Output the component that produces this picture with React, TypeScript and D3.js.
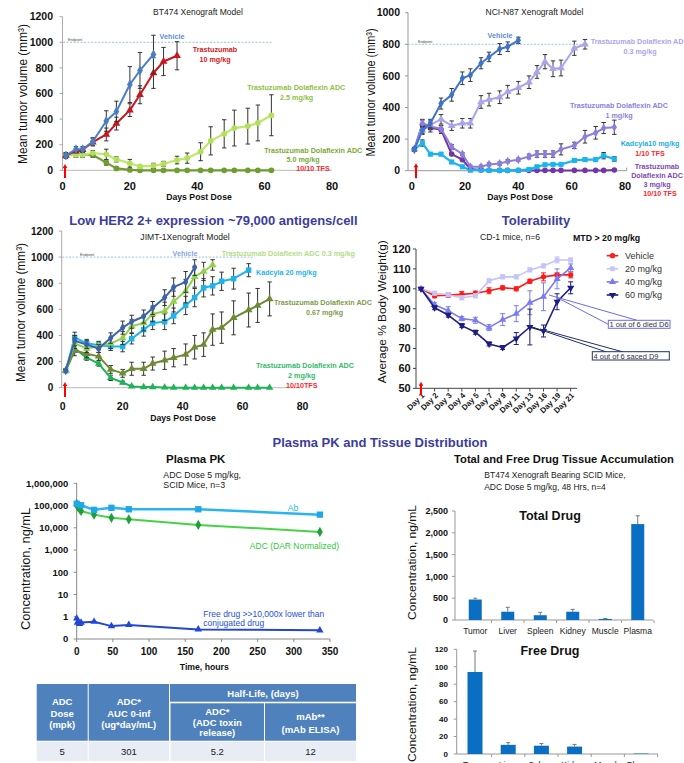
import React from "react";
import * as d3 from "d3";

const FONT = "'Liberation Sans', Arial, Helvetica, sans-serif";
const HEAD = "#3c3c9e";
const TFS = "#ff2a2a";

// ---------------- BT474 ----------------
const btVehDays = [1, 4, 6, 9, 13, 16, 20, 23, 27];
const btVehVals = [115, 165, 165, 225, 385, 460, 670, 780, 905];
const btVehErr = [20, 20, 20, 30, 80, 80, 140, 140, 150];
const btTraDays = [1, 4, 6, 9, 13, 16, 20, 23, 27, 30, 34];
const btTraVals = [115, 150, 160, 220, 280, 365, 470, 590, 760, 850, 895];
const btTraErr = [15, 15, 20, 30, 50, 50, 50, 70, 120, 110, 110];
const btAdcDays = [1, 4, 6, 9, 13, 16, 20, 23, 27, 30, 34, 37, 41, 44, 48, 51, 55, 58, 62];
const btAdc25Vals = [117, 120, 120, 135, 125, 85, 55, 30, 35, 50, 80, 95, 145, 230, 285, 330, 345, 370, 430];
const btAdc25Err = [20, 20, 20, 20, 40, 20, 30, 10, 20, 20, 30, 40, 70, 110, 110, 140, 140, 140, 160];
const btAdc50Vals = [117, 125, 125, 120, 60, 15, 3, 0, 0, 0, 0, 0, 0, 0, 0, 0, 0, 0, 0];
const btAdc50Err = [20, 20, 20, 20, 20, 10, 5, 0, 0, 0, 0, 0, 0, 0, 0, 0, 0, 0, 0];
const btYTicks = [0, 200, 400, 600, 800, 1000, 1200];
const btXTicks = [0, 20, 40, 60, 80];

// ---------------- NCI-N87 ----------------
const nVehDays = [1, 4, 7, 11, 15, 19, 22, 26, 29, 33, 36, 40];
const nVehVals = [135, 255, 300, 425, 480, 585, 605, 680, 720, 770, 785, 825];
const nVehErr = [10, 20, 25, 35, 40, 40, 40, 35, 30, 35, 30, 20];
const n03Days = [1, 4, 7, 11, 15, 19, 22, 26, 29, 33, 36, 40, 44, 47, 50, 53, 56, 61, 65];
const n03Vals = [135, 255, 290, 325, 285, 300, 300, 435, 450, 465, 500, 525, 560, 625, 690, 645, 650, 775, 800];
const n03Err = [10, 25, 25, 30, 30, 30, 30, 40, 40, 40, 40, 40, 40, 40, 45, 50, 50, 45, 30];
const nLongDays = [1, 4, 7, 11, 15, 19, 22, 26, 29, 33, 36, 40, 44, 47, 50, 53, 56, 61, 65, 69, 72, 76];
const n1Vals = [135, 300, 280, 265, 150, 105, 25, 25, 40, 45, 60, 70, 90, 105, 105, 105, 135, 160, 215, 240, 270, 275];
const n1Err = [10, 25, 20, 20, 15, 10, 10, 10, 10, 10, 10, 10, 15, 20, 20, 20, 35, 20, 40, 40, 35, 45];
const nKadVals = [135, 175, 105, 105, 55, 25, 3, 5, 2, 2, 2, 2, 8, 25, 38, 40, 40, 65, 70, 70, 95, 75];
const nKadErr = [10, 20, 10, 10, 10, 5, 5, 5, 5, 5, 5, 5, 5, 5, 5, 5, 5, 10, 10, 10, 20, 15];
const n3Vals = [135, 290, 270, 260, 105, 70, 10, 5, 3, 2, 2, 2, 2, 2, 2, 2, 2, 2, 2, 2, 2, 5];
const n3Err = [10, 30, 25, 25, 10, 5, 5, 0, 0, 0, 0, 0, 0, 0, 0, 0, 0, 0, 0, 0, 0, 0];
const nYTicks = [0, 200, 400, 600, 800, 1000];
const nXTicks = [0, 20, 40, 60, 80];

// ---------------- JIMT-1 ----------------
const jDays = [1, 4, 8, 12, 16, 20, 23, 27, 30, 34, 37, 41, 44, 47, 50, 53, 57, 62, 65, 69];
const jVehVals = [130, 360, 330, 300, 380, 460, 505, 545, 610, 690, 770, 810, 920];
const jVehErr = [10, 40, 30, 30, 40, 50, 50, 50, 50, 60, 70, 80, 60];
const j03Vals = [130, 340, 300, 320, 340, 380, 470, 495, 565, 585, 660, 740, 850, 890, 940];
const j03Err = [10, 40, 30, 30, 40, 50, 50, 60, 60, 70, 80, 90, 80, 70, 40];
const jKadVals = [130, 385, 340, 325, 315, 315, 375, 445, 495, 505, 550, 630, 690, 765, 780, 815, 835, 900];
const jKadErr = [10, 40, 30, 30, 30, 40, 40, 50, 50, 60, 60, 70, 70, 70, 70, 70, 80, 50];
const j067Vals = [130, 285, 260, 240, 140, 110, 145, 145, 185, 210, 230, 255, 310, 330, 445, 460, 535, 595, 630, 680];
const j067Err = [10, 40, 30, 30, 30, 30, 50, 50, 50, 70, 70, 80, 90, 90, 120, 120, 130, 130, 130, 130];
const j2Vals = [130, 300, 230, 185, 75, 40, 10, 5, 5, 2, 0, 0, 0, 0, 0, 0, 0, 0, 0, 0];
const j2Err = [10, 30, 20, 20, 20, 10, 5, 0, 0, 0, 0, 0, 0, 0, 0, 0, 0, 0, 0, 0];
const jYTicks = [0, 200, 400, 600, 800, 1000, 1200];
const jXTicks = [0, 20, 40, 60, 80];

// ---------------- Tolerability ----------------
const tolDays = ["Day 1", "Day 2", "Day 3", "Day 4", "Day 5", "Day 7", "Day 9", "Day 11", "Day 13", "Day 16", "Day 19", "Day 21"];
const tolVeh = [100, 96.5, 96.8, 97.2, 97.8, 99, 100.5, 100, 103.8, 106, 107, 107];
const tolVehErr = [0, 1, 1, 1.5, 1, 1.5, 1, 1, 1, 2, 1, 1.5];
const tol20 = [100, 97.8, 97, 95.5, 96.5, 104, 106, 106, 109.5, 111.5, 114.5, 114.5];
const tol20Err = [0, 1, 1, 1, 1, 1, 1, 1, 1, 1, 1.5, 1];
const tol40 = [100, 92, 89, 85, 84.2, 80.5, 84.5, 87.5, 93, 96, 105, 110.5];
const tol40Err = [0, 1, 2, 1, 1.5, 1.5, 3, 4, 6, 7, 5, 2];
const tol60 = [100, 90.5, 86.8, 81.5, 78.2, 72.3, 70.5, 75, 80.8, 78.8, 93.5, 100.5];
const tol60Err = [0, 1, 1, 1, 1, 1, 1, 3, 9, 3, 4, 3];
const tolYTicks = [50, 60, 70, 80, 90, 100, 110, 120];
const tolLegend = ["Vehicle", "20 mg/kg", "40 mg/kg", "60 mg/kg"];

// ---------------- Plasma PK ----------------
const abT = [0.08, 6, 24, 48, 72, 168, 336];
const abV = [120000, 103000, 64000, 79000, 68000, 68000, 39000];
const adcT = [0.08, 1, 4, 6, 24, 48, 72, 168, 336];
const adcV = [120000, 90000, 70000, 57000, 39000, 28000, 24000, 13500, 6500];
const freeT = [0.08, 1, 4, 6, 24, 48, 72, 168, 336];
const freeV = [0.84, 0.55, 0.48, 0.55, 0.6, 0.38, 0.43, 0.27, 0.245];
const pkYTicks = [0.1, 1, 10, 100, 1000, 10000, 100000, 1000000];
const pkYLabels = ["0", "1", "10", "100", "1,000", "10,000", "100,000", "1,000,000"];
const pkXTicks = [0, 50, 100, 150, 200, 250, 300, 350];

// ---------------- Tissue ----------------
const tissues = ["Tumor", "Liver", "Spleen", "Kidney", "Muscle", "Plasma"];
const totalVals = [470, 190, 110, 190, 25, 2200];
const totalErr = [30, 100, 65, 55, 10, 190];
const totalTicks = [0, 500, 1000, 1500, 2000, 2500];
const freeVals = [94, 10.5, 9.5, 8.5, 0, 0.5];
const freeErr = [24, 2.5, 2.5, 2.5, 0, 0];
const freeTicks = [0, 20, 40, 60, 80, 100, 120];

// ---------------- Table ----------------
const tableRow = ["5", "301", "5.2", "12"];

const fmt = d3.format(",");

function symType(shape: string) {
  if (shape === "circle") return d3.symbolCircle;
  if (shape === "square") return d3.symbolSquare;
  if (shape === "diamond") return d3.symbolDiamond;
  return d3.symbolTriangle;
}

function Marker({ x, y, shape, size, fill }: any) {
  const d = d3.symbol().type(symType(shape)).size(size)() as string;
  return (
    <path d={d} transform={`translate(${x},${y})${shape === "tdown" ? " rotate(180)" : ""}`} fill={fill} />
  );
}

function Series({ xs, ys, err, xS, yS, color, shape, size = 26, sw = 2, errColor = "#333", markerColor, cap = 2.2 }: any) {
  const pts = xs.map((d: any, i: number) => [xS(d), yS(ys[i])]);
  const path = d3.line()(pts) as string;
  return (
    <g>
      {err &&
        err.map((e: number, i: number) =>
          e > 0 ? (
            <g key={"e" + i} stroke={errColor} strokeWidth={1}>
              <line x1={pts[i][0]} x2={pts[i][0]} y1={yS(ys[i] - e)} y2={yS(ys[i] + e)} />
              <line x1={pts[i][0] - cap} x2={pts[i][0] + cap} y1={yS(ys[i] + e)} y2={yS(ys[i] + e)} />
              <line x1={pts[i][0] - cap} x2={pts[i][0] + cap} y1={yS(ys[i] - e)} y2={yS(ys[i] - e)} />
            </g>
          ) : null
        )}
      <path d={path} fill="none" stroke={color} strokeWidth={sw} strokeLinejoin="round" />
      {pts.map((p: number[], i: number) => (
        <Marker key={i} x={p[0]} y={p[1]} shape={shape} size={size} fill={markerColor || color} />
      ))}
    </g>
  );
}

function VLabel({ x, y, text, size, len, weight = "normal" }: any) {
  return (
    <text
      transform={`translate(${x},${y}) rotate(-90)`}
      textAnchor="middle"
      dominantBaseline="middle"
      fontSize={size}
      textLength={len}
      lengthAdjust="spacingAndGlyphs"
      fontWeight={weight}
      fill="#111"
    >
      {text}
    </text>
  );
}

function Lbl({ x, y, lines, color, size = 7.2, anchor = "start", bold = true, lh = 9.5 }: any) {
  return (
    <text fontSize={size} fill={color} fontWeight={bold ? "bold" : "normal"} textAnchor={anchor}>
      {lines.map((l: string, i: number) => (
        <tspan key={i} x={x} y={y + i * lh}>
          {l}
        </tspan>
      ))}
    </text>
  );
}

function RedArrow({ x, y1, y2 }: any) {
  return (
    <g>
      <line x1={x} x2={x} y1={y1} y2={y2 + 3} stroke="#ff0000" strokeWidth={2} />
      <path d={`M${x - 2.3},${y2 + 4}L${x},${y2}L${x + 2.3},${y2 + 4}Z`} fill="#ff0000" />
    </g>
  );
}

function YAxis({ x, yS, ticks, labelX, size, labels, color = "#999", y0, y1, fmtFn }: any) {
  return (
    <g>
      <line x1={x} x2={x} y1={y0} y2={y1} stroke={color} strokeWidth={1} />
      {ticks.map((t: number, i: number) => (
        <g key={i}>
          <line x1={x - 3} x2={x} y1={yS(t)} y2={yS(t)} stroke={color} strokeWidth={1} />
          <text x={labelX} y={yS(t)} dy="0.35em" textAnchor="end" fontSize={size} fontWeight="bold" fill="#111">
            {labels ? labels[i] : fmtFn ? fmtFn(t) : t}
          </text>
        </g>
      ))}
    </g>
  );
}

function XTickLabels({ xS, ticks, y, size }: any) {
  return (
    <g>
      {ticks.map((t: number, i: number) => (
        <text key={i} x={xS(t)} y={y} textAnchor="middle" fontSize={size} fontWeight="bold" fill="#111">
          {t}
        </text>
      ))}
    </g>
  );
}

function Endpoint({ x0, x1, y, tx }: any) {
  return (
    <g>
      <line x1={x0} x2={x1} y1={y} y2={y} stroke="#9dc3e6" strokeWidth={1} strokeDasharray="2,1.5" />
      <text x={tx} y={y - 1} fontSize={3.6} fill="#444">
        Endpoint
      </text>
    </g>
  );
}

function BT474() {
  const xS = d3.scaleLinear([0, 80], [62.5, 332]);
  const yS = d3.scaleLinear([0, 1200], [170.3, 16.7]).clamp(true);
  return (
    <g>
      <text x={198} y={15.3} textAnchor="middle" fontSize={8.5} fill="#222">
        BT474  Xenograft Model
      </text>
      <line x1={62.5} x2={332} y1={170.3} y2={170.3} stroke="#bbb" />
      <YAxis x={62.5} yS={yS} ticks={btYTicks} labelX={53} size={10.5} y0={16.7} y1={171} color="#aaa" />
      <XTickLabels xS={xS} ticks={btXTicks} y={190} size={11} />
      <text x={199} y={199.5} textAnchor="middle" fontSize={8.7} fontWeight="bold" fill="#111">
        Days Post Dose
      </text>
      <VLabel x={23.3} y={94} text="Mean tumor volume (mm³)" size={13} len={140} />
      <Endpoint x0={63} x1={271.7} y={yS(1000)} tx={68} />
      <Series xs={btAdcDays} ys={btAdc50Vals} err={btAdc50Err} xS={xS} yS={yS} color="#6f9d2f" shape="circle" size={26} sw={2.2} />
      <Series xs={btAdcDays} ys={btAdc25Vals} err={btAdc25Err} xS={xS} yS={yS} color="#bfe86a" markerColor="#b3df5c" shape="circle" size={26} sw={2.2} />
      <Series xs={btTraDays} ys={btTraVals} err={btTraErr} xS={xS} yS={yS} color="#c8161e" shape="triangle" size={26} sw={2} />
      <Series xs={btVehDays} ys={btVehVals} err={btVehErr} xS={xS} yS={yS} color="#4a7ec4" shape="diamond" size={28} sw={2} />
      <RedArrow x={65} y1={178} y2={164} />
      <Lbl x={172} y={39} lines={["Vehicle"]} color="#5b8fd4" anchor="middle" />
      <Lbl x={215} y={52.3} lines={["Trastuzumab", "10 mg/kg"]} color="#d42020" anchor="middle" lh={10} />
      <Lbl x={247.3} y={90} lines={["Trastuzumab Dolaflexin  ADC"]} color="#8fbf3f" />
      <Lbl x={296.7} y={99.5} lines={["2.5 mg/kg"]} color="#8fbf3f" anchor="middle" />
      <Lbl x={264.3} y={152.7} lines={["Trastuzumab Dolaflexin  ADC"]} color="#7aab36" />
      <Lbl x={303} y={162} lines={["5.0 mg/kg"]} color="#7aab36" anchor="middle" />
      <Lbl x={313} y={171} lines={["10/10 TFS"]} color={TFS} anchor="middle" />
    </g>
  );
}

function NCI() {
  const xS = d3.scaleLinear([0, 80], [411.7, 625]);
  const yS = d3.scaleLinear([0, 1000], [170.7, 12.7]).clamp(true);
  return (
    <g>
      <text x={534.5} y={15.3} textAnchor="middle" fontSize={8.5} fill="#222">
        NCI-N87 Xenograft Model
      </text>
      <line x1={408} x2={626.7} y1={170.7} y2={170.7} stroke="#999" />
      <line x1={626.7} x2={626.7} y1={170.7} y2={167.5} stroke="#999" />
      <YAxis x={408} yS={yS} ticks={nYTicks} labelX={400} size={10.5} y0={12.7} y1={170.7} color="#999" />
      <XTickLabels xS={xS} ticks={nXTicks} y={189.5} size={11} />
      <text x={520} y={199.5} textAnchor="middle" fontSize={8.7} fontWeight="bold" fill="#111">
        Days Post Dose
      </text>
      <VLabel x={371.7} y={92.5} text="Mean tumor volume (mm³)" size={12} len={128} />
      <Endpoint x0={408} x1={588} y={yS(800)} tx={418} />
      <Series xs={nLongDays} ys={n3Vals} err={n3Err} xS={xS} yS={yS} color="#7435a8" shape="circle" size={24} sw={2} />
      <Series xs={nLongDays} ys={nKadVals} err={nKadErr} xS={xS} yS={yS} color="#1ab4ee" shape="square" size={26} sw={2.2} />
      <Series xs={nLongDays} ys={n1Vals} err={n1Err} xS={xS} yS={yS} color="#8c7edb" shape="diamond" size={24} sw={2} />
      <Series xs={n03Days} ys={n03Vals} err={n03Err} xS={xS} yS={yS} color="#a9a4ec" shape="triangle" size={26} sw={2} />
      <Series xs={nVehDays} ys={nVehVals} err={nVehErr} xS={xS} yS={yS} color="#3f73c8" shape="diamond" size={24} sw={2} />
      <RedArrow x={416} y1={178.3} y2={163.3} />
      <Lbl x={500} y={37.7} lines={["Vehicle"]} color="#5a8ad8" anchor="middle" />
      <Lbl x={590.7} y={43.5} lines={["Trastuzumab Dolaflexin  ADC"]} color="#aaa6ee" />
      <Lbl x={640} y={53.5} lines={["0.3 mg/kg"]} color="#aaa6ee" anchor="middle" />
      <Lbl x={619} y={108} lines={["Trastuzumab Dolaflexin  ADC", "1 mg/kg"]} color="#8e80dc" anchor="middle" lh={10} />
      <Lbl x={650} y={145.5} lines={["Kadcyla10 mg/kg"]} color="#1aaeea" anchor="middle" />
      <Lbl x={650} y={155.5} lines={["1/10 TFS"]} color={TFS} anchor="middle" />
      <Lbl x={657} y={168.5} lines={["Trastuzumab", "Dolaflexin  ADC", "3 mg/kg"]} color="#8048b2" anchor="middle" lh={9.3} />
      <Lbl x={660} y={196} lines={["10/10 TFS"]} color={TFS} anchor="middle" />
    </g>
  );
}

function JIMT() {
  const xS = d3.scaleLinear([0, 80], [62.7, 302.6]);
  const yS = d3.scaleLinear([0, 1200], [387.7, 231]).clamp(true);
  return (
    <g>
      <text x={185} y={240} textAnchor="middle" fontSize={8.6} fill="#222">
        JIMT-1Xenograft Model
      </text>
      <line x1={61.7} x2={300} y1={387.7} y2={387.7} stroke="#bbb" />
      <YAxis x={61.7} yS={yS} ticks={jYTicks} labelX={53.3} size={10} y0={231} y1={387.7} color="#aaa" />
      <XTickLabels xS={xS} ticks={jXTicks} y={410} size={10.5} />
      <text x={183} y={421} textAnchor="middle" fontSize={8.7} fontWeight="bold" fill="#111">
        Days Post Dose
      </text>
      <VLabel x={21.7} y={312.5} text="Mean tumor volume (mm³)" size={13} len={139} />
      <Endpoint x0={62} x1={255} y={yS(1000)} tx={80} />
      <Series xs={jDays} ys={j2Vals} err={j2Err} xS={xS} yS={yS} color="#22b158" shape="triangle" size={24} sw={2} />
      <Series xs={jDays} ys={j067Vals} err={j067Err} xS={xS} yS={yS} color="#6d8b35" shape="triangle" size={26} sw={2} />
      <Series xs={jDays.slice(0, 18)} ys={jKadVals} err={jKadErr} xS={xS} yS={yS} color="#20b2ea" shape="square" size={30} sw={2} />
      <Series xs={jDays.slice(0, 15)} ys={j03Vals} err={j03Err} xS={xS} yS={yS} color="#92d050" shape="triangle" size={26} sw={2} />
      <Series xs={jDays.slice(0, 13)} ys={jVehVals} err={jVehErr} xS={xS} yS={yS} color="#3d62a5" shape="diamond" size={24} sw={2} />
      <RedArrow x={65} y1={397} y2={382} />
      <Lbl x={185} y={256} lines={["Vehicle"]} color="#86a6dc" anchor="middle" />
      <Lbl x={221.7} y={255.5} lines={["Trastuzumab Dolaflexin  ADC 0.3 mg/kg"]} color="#b3dd85" />
      <Lbl x={256} y={275} lines={["Kadcyla 20 mg/kg"]} color="#22b4ec" />
      <Lbl x={274} y={305} lines={["Trastuzumab Dolaflexin  ADC"]} color="#809b4c" />
      <Lbl x={324.5} y={315} lines={["0.67 mg/kg"]} color="#809b4c" anchor="middle" />
      <Lbl x={256} y={367.7} lines={["Trastuzumab Dolaflexin  ADC"]} color="#2fbb6a" />
      <Lbl x={301.7} y={377.7} lines={["2 mg/kg"]} color="#2fbb6a" anchor="middle" />
      <Lbl x={301.7} y={387.7} lines={["10/10TFS"]} color={TFS} anchor="middle" />
    </g>
  );
}

function Tol() {
  const xS = d3.scalePoint(tolDays, [421, 570.7]);
  const yS = d3.scaleLinear([50, 120], [388.3, 249]).clamp(true);
  const series = [
    { v: tolVeh, e: tolVehErr, c: "#ff1a1a", s: "circle" },
    { v: tol20, e: tol20Err, c: "#c4c4f8", s: "square" },
    { v: tol40, e: tol40Err, c: "#7b7bf5", s: "triangle" },
    { v: tol60, e: tol60Err, c: "#1c1c82", s: "tdown" },
  ];
  return (
    <g>
      <text x={536} y={225} textAnchor="middle" fontSize={13} fontWeight="bold" fill={HEAD}>
        Tolerability
      </text>
      <text x={510} y={240} textAnchor="middle" fontSize={8.6} fill="#222">
        CD-1 mice, n=6
      </text>
      <text x={573} y={241} fontSize={8.8} fontWeight="bold" fill="#111">
        MTD &gt; 20 mg/kg
      </text>
      <YAxis x={416} yS={yS} ticks={tolYTicks} labelX={410.7} size={11} y0={249} y1={388.3} color="#444" />
      <line x1={416} x2={577} y1={388.3} y2={388.3} stroke="#444" />
      {tolDays.map((d) => (
        <g key={d}>
          <line x1={xS(d)} x2={xS(d)} y1={388.3} y2={391.5} stroke="#444" />
          <text
            transform={`translate(${(xS(d) as number) + 4},${396}) rotate(-45)`}
            textAnchor="end"
            fontSize={7.8}
            fontWeight="bold"
            fill="#111"
          >
            {d}
          </text>
        </g>
      ))}
      <VLabel x={383.3} y={311.7} text="Average % Body Weight(g)" size={11.5} len={143} />
      {series.map((s, i) => (
        <Series key={i} xs={tolDays} ys={s.v} err={s.e} xS={xS} yS={yS} color={s.c} errColor={s.c} shape={s.s} size={22} sw={1.6} cap={2.5} />
      ))}
      <RedArrow x={421} y1={395} y2={381.7} />
      {tolLegend.map((l, i) => (
        <g key={l}>
          <line x1={606.7} x2={618.3} y1={255.7 + i * 13.1} y2={255.7 + i * 13.1} stroke={series[i].c} strokeWidth={1.6} />
          <Marker x={612.5} y={255.7 + i * 13.1} shape={series[i].s} size={22} fill={series[i].c} />
          <text x={625} y={255.7 + i * 13.1} dy="0.35em" fontSize={9} fill="#333">
            {l}
          </text>
        </g>
      ))}
      <g stroke="#6b6bf0" strokeWidth={1}>
        <line x1={549} y1={295} x2={637} y2={320.3} />
        <line x1={557} y1={297.5} x2={608.3} y2={324.3} />
      </g>
      <rect x={608.3} y={320.3} width={61.7} height={8} fill="#fff" stroke="#6b6bf0" strokeWidth={1} />
      <text x={609.5} y={327} fontSize={7.5} fill="#333">
        1 out of 6 died D6
      </text>
      <g stroke="#1f2f6e" strokeWidth={1}>
        <line x1={532} y1={327} x2={606.7} y2={352} />
        <line x1={540} y1={329} x2={623.3} y2={352} />
      </g>
      <rect x={592.3} y={351.7} width={77} height={8.3} fill="#fff" stroke="#1f2f6e" strokeWidth={1} />
      <text x={593.5} y={358.7} fontSize={7.5} fill="#333">
        4 out of 6 saced D9
      </text>
    </g>
  );
}

function PK() {
  const xS = d3.scaleLinear([0, 350], [76.7, 330]);
  const yS = d3.scaleLog([0.1, 1e6], [639, 483.3]);
  return (
    <g>
      <text x={195.7} y={463} textAnchor="middle" fontSize={11.5} fontWeight="bold" fill="#111">
        Plasma PK
      </text>
      <text x={163.3} y={478} fontSize={8.8} fill="#222">
        ADC Dose 5 mg/kg,
      </text>
      <text x={163.3} y={487.5} fontSize={8.8} fill="#222">
        SCID Mice, n=3
      </text>
      <YAxis x={76.7} yS={yS} ticks={pkYTicks} labels={pkYLabels} labelX={68.3} size={9.5} y0={483.3} y1={639} color="#888" />
      <line x1={76.7} x2={330} y1={639} y2={639} stroke="#888" />
      {pkXTicks.map((t) => (
        <g key={t}>
          <line x1={xS(t)} x2={xS(t)} y1={639} y2={642} stroke="#888" />
          <text x={xS(t)} y={655} textAnchor="middle" fontSize={10} fontWeight="bold" fill="#111">
            {t}
          </text>
        </g>
      ))}
      <text x={204.3} y={669.5} textAnchor="middle" fontSize={8.7} fontWeight="bold" fill="#111">
        Time, hours
      </text>
      <VLabel x={26.7} y={569} text="Concentration, ng/mL" size={12} len={122} />
      <Series xs={adcT} ys={adcV} xS={xS} yS={yS} color="#47d247" markerColor="#1f9e3b" shape="diamond" size={30} sw={2} />
      <Series xs={abT} ys={abV} xS={xS} yS={yS} color="#29b5ef" markerColor="#1fa8e8" shape="square" size={40} sw={2.5} />
      <Series xs={freeT} ys={freeV} xS={xS} yS={yS} color="#2346d6" shape="triangle" size={24} sw={2} />
      <text x={293} y={510.5} textAnchor="middle" fontSize={8.5} fill="#29b5ef">
        Ab
      </text>
      <text x={294.5} y={548.7} textAnchor="middle" fontSize={8.5} fill="#33c640">
        ADC (DAR Normalized)
      </text>
      <text x={203.3} y={616.5} fontSize={8.5} fill="#2850d8">
        Free drug &gt;&gt;10,000x lower than
      </text>
      <text x={203.3} y={626} fontSize={8.5} fill="#2850d8">
        conjugated drug
      </text>
    </g>
  );
}

function BarChart({ vals, errs, ticks, xS, yS, barW, labelY, axisX, x1, tickSize, title, titleY }: any) {
  const [y0, y1] = yS.range();
  return (
    <g>
      <text x={550} y={titleY} textAnchor="middle" fontSize={12.5} fontWeight="bold" fill="#111">
        {title}
      </text>
      <YAxis x={axisX} yS={yS} ticks={ticks} labelX={448} size={tickSize} y0={y1} y1={y0} color="#999" fmtFn={fmt} />
      <line x1={axisX} x2={x1} y1={y0} y2={y0} stroke="#999" />
      {tissues.map((t: string, i: number) => {
        const cx = (xS(t) as number) + xS.bandwidth() / 2;
        const top = yS(vals[i]);
        const et = yS(vals[i] + errs[i]);
        return (
          <g key={t}>
            <line x1={xS(t) + xS.bandwidth()} x2={xS(t) + xS.bandwidth()} y1={y0} y2={y0 + 3} stroke="#999" />
            <rect x={cx - barW / 2} y={top} width={barW} height={y0 - top} fill="#0a6fc2" />
            {errs[i] > 0 && (
              <g stroke="#777" strokeWidth={1}>
                <line x1={cx} x2={cx} y1={top} y2={et} />
                <line x1={cx - 2} x2={cx + 2} y1={et} y2={et} />
              </g>
            )}
            <text x={cx} y={labelY} textAnchor="middle" fontSize={8.5} fill="#222">
              {t}
            </text>
          </g>
        );
      })}
    </g>
  );
}

function Tissue() {
  const tx = d3.scaleBand(tissues, [459, 654]);
  const ty = d3.scaleLinear([0, 2500], [620, 511]);
  const fx = d3.scaleBand(tissues, [458.4, 657.6]);
  const fy = d3.scaleLinear([0, 120], [754, 649.3]);
  return (
    <g>
      <text x={564} y={463} textAnchor="middle" fontSize={11.2} fontWeight="bold" fill="#111">
        Total and Free Drug  Tissue Accumulation
      </text>
      <text x={555} y={478} textAnchor="middle" fontSize={8.5} fill="#222">
        BT474 Xenograft Bearing SCID Mice,
      </text>
      <text x={545} y={490} textAnchor="middle" fontSize={8.5} fill="#222">
        ADC Dose 5 mg/kg, 48 Hrs, n=4
      </text>
      <VLabel x={413.3} y={562.5} text="Concentration, ng/mL" size={11} len={115} />
      <BarChart vals={totalVals} errs={totalErr} ticks={totalTicks} xS={tx} yS={ty} barW={13} labelY={634} axisX={455} x1={653} tickSize={9} title="Total Drug" titleY={519.5} />
      <VLabel x={413.3} y={704.5} text="Concentration, ng/mL" size={11} len={115} />
      <BarChart vals={freeVals} errs={freeErr} ticks={freeTicks} xS={fx} yS={fy} barW={15} labelY={767.5} axisX={456.7} x1={658} tickSize={8} title="Free Drug" titleY={654.5} />
    </g>
  );
}

function PKTable() {
  const blue = "#4f81bd";
  const white = { fill: "#fff", fontWeight: "bold", fontSize: 9.5, textAnchor: "middle" } as any;
  const cols = [
    [36.7, 87.7],
    [88.7, 169],
    [170.5, 264],
    [265, 356],
  ];
  return (
    <g>
      <rect x={cols[0][0]} y={684} width={cols[0][1] - cols[0][0]} height={56.7} fill={blue} />
      <rect x={cols[1][0]} y={684} width={cols[1][1] - cols[1][0]} height={56.7} fill={blue} />
      <rect x={170} y={684} width={186} height={17.7} fill={blue} />
      <rect x={cols[2][0]} y={703.3} width={cols[2][1] - cols[2][0]} height={37.4} fill={blue} />
      <rect x={cols[3][0]} y={703.3} width={cols[3][1] - cols[3][0]} height={37.4} fill={blue} />
      {cols.map((c, i) => (
        <g key={i}>
          <rect x={c[0]} y={741.7} width={c[1] - c[0]} height={19.3} fill="#e8ecf4" />
          <text x={(c[0] + c[1]) / 2} y={755} textAnchor="middle" fontSize={9.5} fill="#222">
            {tableRow[i]}
          </text>
        </g>
      ))}
      <text {...white}>
        <tspan x={62.2} y={705.3}>ADC</tspan>
        <tspan x={62.2} y={717}>Dose</tspan>
        <tspan x={62.2} y={728}>(mpk)</tspan>
      </text>
      <text {...white}>
        <tspan x={128.8} y={705.3}>ADC*</tspan>
        <tspan x={128.8} y={716.5}>AUC 0-inf</tspan>
        <tspan x={128.8} y={728}>(ug*day/mL)</tspan>
      </text>
      <text {...white}>
        <tspan x={263} y={697}>Half-Life, (days)</tspan>
      </text>
      <text {...white}>
        <tspan x={217.3} y={714.7}>ADC*</tspan>
        <tspan x={217.3} y={725.7}>(ADC toxin</tspan>
        <tspan x={217.3} y={736.3}>release)</tspan>
      </text>
      <text {...white}>
        <tspan x={310.5} y={719.7}>mAb**</tspan>
        <tspan x={310.5} y={733}>(mAb  ELISA)</tspan>
      </text>
    </g>
  );
}

export default function App() {
  return (
    <div style={{ position: "absolute", left: 0, top: 0, width: 684, height: 763, background: "#fff" }}>
      <svg width={684} height={763} viewBox="0 0 684 763" fontFamily={FONT} style={{ display: "block" }}>
        <rect width={684} height={763} fill="#fff" />
        <BT474 />
        <NCI />
        <JIMT />
        <Tol />
        <PK />
        <Tissue />
        <PKTable />
        <text x={69.3} y={224.5} fontSize={13} fontWeight="bold" fill={HEAD}>
          Low HER2 2+ expression ~79,000  antigens/cell
        </text>
        <text x={380} y={446.5} textAnchor="middle" fontSize={13} fontWeight="bold" fill={HEAD}>
          Plasma PK and Tissue Distribution
        </text>
      </svg>
    </div>
  );
}
